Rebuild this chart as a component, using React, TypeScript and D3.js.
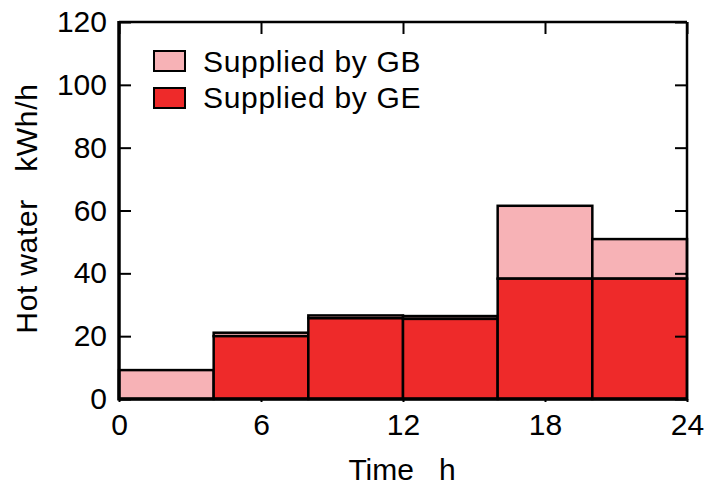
import React, { useEffect, useRef } from 'react';
import * as d3 from 'd3';

const periods = ['0-4', '4-8', '8-12', '12-16', '16-20', '20-24'];
const periodStart = [0, 4, 8, 12, 16, 20];
const periodEnd = [4, 8, 12, 16, 20, 24];
const suppliedGE = [0, 20, 25.7, 25.5, 38.3, 38.3];
const suppliedGB = [9.2, 1.1, 0.9, 0.9, 23.2, 12.6];
const xTicks = [0, 6, 12, 18, 24];
const yTicks = [0, 20, 40, 60, 80, 100, 120];
const legendLabels = ['Supplied by GB', 'Supplied by GE'];

const W = 707;
const H = 488;
const left = 119;
const right = 687;
const top = 22;
const bottom = 399;
const font = '"Liberation Sans", Arial, sans-serif';
const fs = 30;
const colGB = '#f7b2b6';
const colGE = '#ee2a2a';

export default function App() {
  const ref = useRef<SVGSVGElement>(null);

  useEffect(() => {
    const svg = d3.select(ref.current);
    svg.selectAll('*').remove();

    const x = d3.scaleLinear().domain([0, 24]).range([left, right]);
    const y = d3.scaleLinear().domain([0, 120]).range([bottom, top]);

    const bars = svg.append('g');
    periods.forEach((p, i) => {
      const ge = suppliedGE[i];
      const tot = ge + suppliedGB[i];
      bars.append('rect')
        .attr('x', x(periodStart[i]))
        .attr('width', x(periodEnd[i]) - x(periodStart[i]))
        .attr('y', y(tot))
        .attr('height', y(ge) - y(tot))
        .attr('fill', colGB)
        .attr('stroke', '#000')
        .attr('stroke-width', 2.5);
      if (ge > 0) {
        bars.append('rect')
          .attr('x', x(periodStart[i]))
          .attr('width', x(periodEnd[i]) - x(periodStart[i]))
          .attr('y', y(ge))
          .attr('height', y(0) - y(ge))
          .attr('fill', colGE)
          .attr('stroke', '#000')
          .attr('stroke-width', 2.5);
      }
    });

    // axes, ticks inward
    const styleAxis = (g: any) => {
      g.select('.domain').remove();
      g.selectAll('line').attr('stroke', '#000').attr('stroke-width', 2);
      g.selectAll('text').attr('font-family', font).attr('font-size', fs).attr('fill', '#000');
    };
    svg.append('g')
      .attr('transform', `translate(${left},0)`)
      .call(d3.axisLeft(y).tickValues(yTicks).tickSize(-12).tickPadding(12).tickFormat(d3.format('d')))
      .call(styleAxis);
    svg.append('g')
      .attr('transform', `translate(${right},0)`)
      .call(d3.axisRight(y).tickValues(yTicks).tickSize(-12).tickFormat(() => ''))
      .call(styleAxis);
    svg.append('g')
      .attr('transform', `translate(0,${top})`)
      .call(d3.axisTop(x).tickValues(xTicks).tickSize(-12).tickFormat(() => ''))
      .call(styleAxis);
    svg.append('g')
      .attr('transform', `translate(0,${bottom})`)
      .call(d3.axisBottom(x).tickValues(xTicks).tickSize(3).tickPadding(12).tickFormat(d3.format('d')))
      .call(styleAxis);

    // frame
    svg.append('line').attr('x1', left).attr('x2', right).attr('y1', top).attr('y2', top)
      .attr('stroke', '#000').attr('stroke-width', 2.5);
    svg.append('line').attr('x1', right).attr('x2', right).attr('y1', top).attr('y2', bottom)
      .attr('stroke', '#000').attr('stroke-width', 2.5);
    svg.append('line').attr('x1', left).attr('x2', right).attr('y1', bottom).attr('y2', bottom)
      .attr('stroke', '#000').attr('stroke-width', 3.5);
    svg.append('line').attr('x1', left).attr('x2', left).attr('y1', top - 1).attr('y2', bottom + 1.5)
      .attr('stroke', '#000').attr('stroke-width', 3.5);

    // legend
    const lg = svg.append('g');
    [colGB, colGE].forEach((c, i) => {
      lg.append('rect')
        .attr('x', 154).attr('y', 51 + i * 37)
        .attr('width', 31).attr('height', 20)
        .attr('fill', c).attr('stroke', '#000').attr('stroke-width', 2);
      lg.append('text')
        .attr('x', 203).attr('y', 71.5 + i * 36.5)
        .attr('font-family', font).attr('font-size', fs)
        .attr('letter-spacing', 0.7)
        .text(legendLabels[i]);
    });

    // axis titles
    svg.append('text')
      .attr('x', 402).attr('y', 480)
      .attr('text-anchor', 'middle')
      .attr('font-family', font).attr('font-size', fs)
      .style('white-space', 'pre')
      .text('Time   h');
    svg.append('text')
      .attr('transform', `translate(37,${(top + bottom) / 2 - 2}) rotate(-90)`)
      .attr('text-anchor', 'middle')
      .attr('font-family', font).attr('font-size', fs)
      .attr('letter-spacing', 0.7)
      .style('white-space', 'pre')
      .text('Hot water   kWh/h');
  }, []);

  return (
    <svg
      ref={ref}
      width={W}
      height={H}
      style={{ position: 'absolute', left: 0, top: 0, background: '#fff' }}
    />
  );
}
